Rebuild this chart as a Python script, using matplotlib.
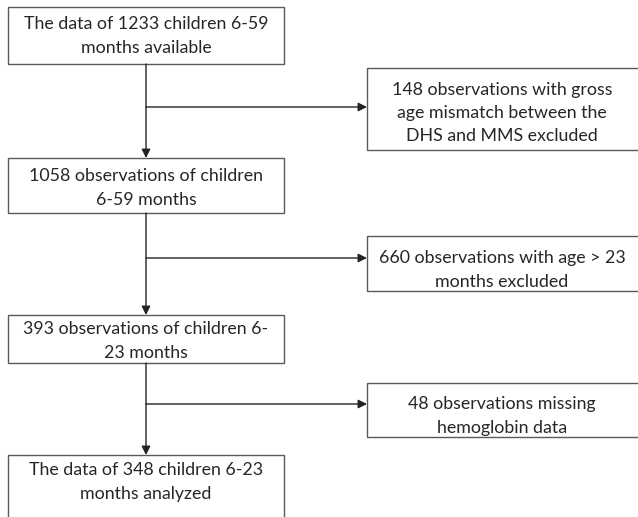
import matplotlib
matplotlib.use("Agg")
import matplotlib.pyplot as plt
from matplotlib.patches import Rectangle

main_texts = [
    "The data of 1233 children 6-59\nmonths available",
    "1058 observations of children\n6-59 months",
    "393 observations of children 6-\n23 months",
    "The data of 348 children 6-23\nmonths analyzed",
]
excl_texts = [
    "148 observations with gross\nage mismatch between the\nDHS and MMS excluded",
    "660 observations with age > 23\nmonths excluded",
    "48 observations missing\nhemoglobin data",
]

# layout (pixels)
main_boxes = [(8, 7, 284, 64), (8, 158, 284, 213), (8, 315, 284, 363), (8, 455, 284, 530)]
main_text_y = [36, 188, 341, 482]
excl_boxes = [(367, 68, 660, 150), (367, 236, 660, 291), (367, 383, 660, 437)]
excl_text_y = [113, 270, 416]
branch_y = [107, 258, 404]
xc = 146

fig = plt.figure(figsize=(6.38, 5.17), dpi=100)
ax = fig.add_axes([0, 0, 1, 1])
ax.set_xlim(0, 638)
ax.set_ylim(517, 0)
ax.axis("off")

edge = "#5a5a5a"
tcol = "#262626"
font = dict(family="Lato", fontsize=12.8, color=tcol, ha="center", va="center", linespacing=1.55)

for (x0, y0, x1, y1), ty, t in zip(main_boxes, main_text_y, main_texts):
    ax.add_patch(Rectangle((x0, y0), x1 - x0, y1 - y0, fill=False, ec=edge, lw=1.0))
    ax.text((x0 + x1) / 2, ty, t, **font)

for (x0, y0, x1, y1), ty, t in zip(excl_boxes, excl_text_y, excl_texts):
    ax.add_patch(Rectangle((x0, y0), x1 - x0, y1 - y0, fill=False, ec=edge, lw=1.0))
    ax.text((x0 + 637) / 2, ty, t, **font)

for i in range(3):
    y_start = main_boxes[i][3]
    y_end = main_boxes[i + 1][1]
    ax.annotate("", xy=(xc, y_end), xytext=(xc, y_start),
                arrowprops=dict(arrowstyle="-|>", color="#222222", lw=1.0,
                                mutation_scale=13, shrinkA=0, shrinkB=0))
    ax.annotate("", xy=(excl_boxes[i][0], branch_y[i]), xytext=(xc, branch_y[i]),
                arrowprops=dict(arrowstyle="-|>", color="#222222", lw=1.0,
                                mutation_scale=13, shrinkA=0, shrinkB=0))

fig.savefig("out.png", dpi=100, facecolor="white")
